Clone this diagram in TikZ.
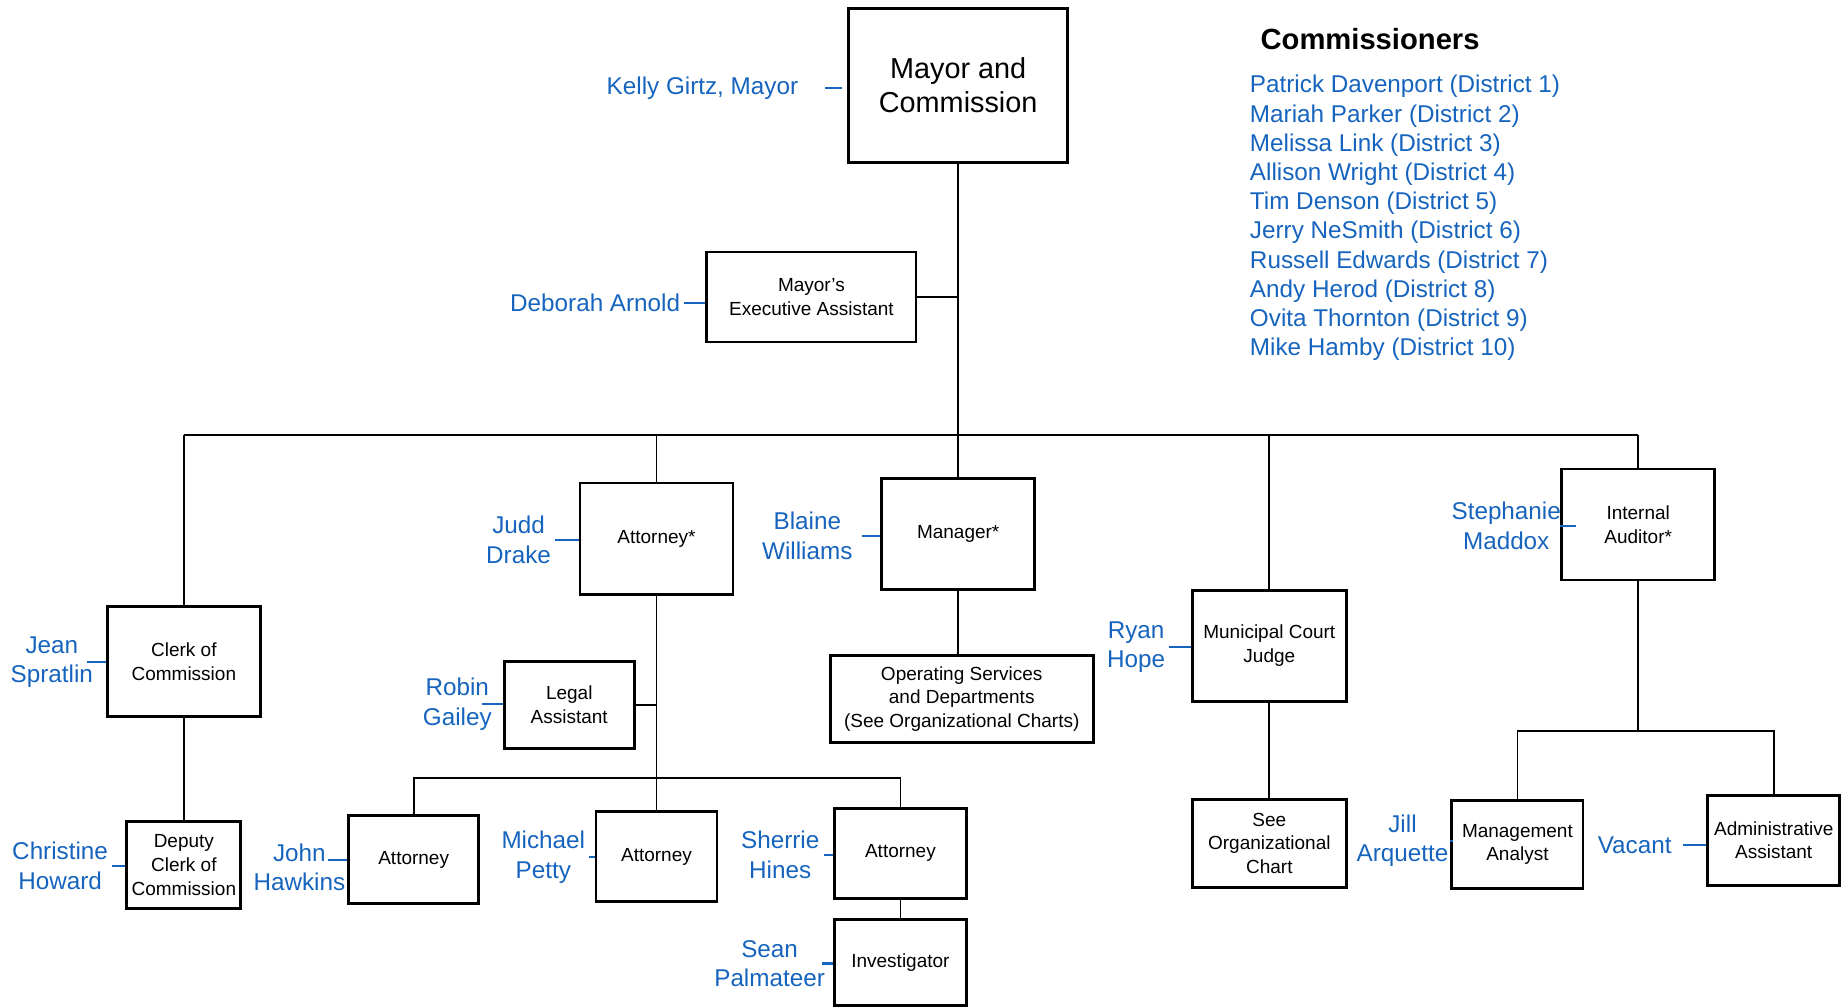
\documentclass[tikz,border=0pt]{standalone}
\usepackage{fontspec}
\setmainfont{Liberation Sans}
\usepackage{xcolor}
\definecolor{nameblue}{RGB}{22,100,190}

\begin{document}
\begin{tikzpicture}[x=0.011786cm,y=-0.011786cm,
  post/.style={draw,line width=0.8pt,align=center,inner sep=0pt,font=\fontsize{5.4}{6.7}\selectfont},
  person/.style={text=nameblue,align=center,inner sep=0pt,font=\fontsize{6.9}{8.4}\selectfont},
  tick/.style={draw=nameblue,line width=0.6pt,shorten <=1pt},
  link/.style={draw,line width=0.5pt}]
        \useasboundingbox (0,0) rectangle (1568,853.6);
        % top of the chart
        \node[post,minimum width=2.19cm,minimum height=1.54cm,font=\fontsize{8.2}{9.7}\selectfont] (mayor) at (813,72.5) {Mayor and\\Commission};
        \node[post,minimum width=2.09cm,minimum height=0.90cm] (exec) at (688.5,252) {Mayor's\\Executive Assistant};
        \node[person] (kelly) at (596,75) {Kelly Girtz, Mayor};
        \node[person] (deborah) at (505,257) {Deborah Arnold};
        \node[anchor=west,inner sep=0pt,font=\bfseries\fontsize{8.3}{10}\selectfont] (head) at (1069,33) {Commissioners};
        \node[person,anchor=west,align=left,font=\fontsize{6.9}{8.3}\selectfont] (board) at (1060,185) {Patrick Davenport (District 1)\\Mariah Parker (District 2)\\Melissa Link (District 3)\\Allison Wright (District 4)\\Tim Denson (District 5)\\Jerry NeSmith (District 6)\\Russell Edwards (District 7)\\Andy Herod (District 8)\\Ovita Thornton (District 9)\\Mike Hamby (District 10)};
        % second row
        \node[post,minimum width=1.53cm,minimum height=1.10cm] (clerk) at (156,561.5) {Clerk of\\Commission};
        \node[post,minimum width=1.53cm,minimum height=1.11cm] (attyTop) at (557,457) {Attorney*};
        \node[post,minimum width=1.53cm,minimum height=1.11cm] (manager) at (813,453) {Manager*};
        \node[post,minimum width=1.54cm,minimum height=1.11cm] (court) at (1077,548) {Municipal Court\\Judge};
        \node[post,minimum width=1.53cm,minimum height=1.11cm] (auditor) at (1390,445) {Internal\\Auditor*};
        \node[person] (jean) at (44,562) {Jean\\Spratlin};
        \node[person] (judd) at (440,458) {Judd\\Drake};
        \node[person] (blaine) at (685,454.5) {Blaine\\Williams};
        \node[person] (ryan) at (964,549) {Ryan\\Hope};
        \node[person] (stephanie) at (1278,446) {Stephanie\\Maddox};
        % lower rows
        \node[post,minimum width=1.14cm,minimum height=0.87cm] (deputy) at (156,734) {Deputy\\Clerk of\\Commission};
        \node[post,minimum width=1.30cm,minimum height=0.87cm] (legal) at (483,598) {Legal\\Assistant};
        \node[post,minimum width=1.30cm,minimum height=0.88cm] (attyA) at (351,729.5) {Attorney};
        \node[post,minimum width=1.21cm,minimum height=0.90cm] (attyB) at (557,727) {Attorney};
        \node[post,minimum width=1.32cm,minimum height=0.90cm] (attyC) at (764,724) {Attorney};
        \node[post,minimum width=1.32cm,minimum height=0.86cm] (invest) at (764,816.5) {Investigator};
        \node[post,minimum width=2.63cm,minimum height=0.87cm] (ops) at (816,593) {Operating Services\\and Departments\\(See Organizational Charts)};
        \node[post,minimum width=1.54cm,minimum height=0.88cm] (seeorg) at (1077,715.5) {See\\Organizational\\Chart};
        \node[post,minimum width=1.31cm,minimum height=0.88cm] (analyst) at (1287.5,716.5) {Management\\Analyst};
        \node[post,minimum width=1.32cm,minimum height=0.90cm] (admin) at (1505,713) {Administrative\\Assistant};
        \node[person] (christine) at (51,734.5) {Christine\\Howard};
        \node[person] (robin) at (388,597.5) {Robin\\Gailey};
        \node[person] (john) at (254,736) {John\\Hawkins};
        \node[person] (michael) at (461,727.5) {Michael\\Petty};
        \node[person] (sherrie) at (662,725.5) {Sherrie\\Hines};
        \node[person] (sean) at (653,817.5) {Sean\\Palmateer};
        \node[person] (jill) at (1190,713.5) {Jill\\Arquette};
        \node[person] (vacant) at (1387,717) {Vacant};
        % connectors
        \coordinate (bus) at (0,369);
        \coordinate (legalbus) at (0,660);
        \coordinate (auditbus) at (0,620);
        \draw[link] (mayor.south) -- (manager.north);
        \draw[link] (exec.east) -- (exec.east -| mayor.south);
        \draw[link] (clerk.north |- bus) -- (auditor.north |- bus);
        \draw[link] (clerk.north) -- (clerk.north |- bus);
        \draw[link] (attyTop.north) -- (attyTop.north |- bus);
        \draw[link] (court.north) -- (court.north |- bus);
        \draw[link] (auditor.north) -- (auditor.north |- bus);
        \draw[link] (clerk.south) -- (deputy.north);
        \draw[link] (attyTop.south) -- (attyB.north);
        \draw[link] (legal.east) -- (legal.east -| attyTop.south);
        \draw[link] (attyA.north) |- (attyC.north |- legalbus) -- (attyC.north);
        \draw[link] (attyC.south) -- (invest.north);
        \draw[link] (manager.south) -- (manager.south |- ops.north);
        \draw[link] (court.south) -- (seeorg.north);
        \draw[link] (auditor.south) -- (auditor.south |- auditbus);
        \draw[link] (analyst.north) |- (admin.north |- auditbus) -- (admin.north);
        % name ticks
        \draw[tick,shorten <=7.5pt,shorten >=1.5pt] (kelly.east) -- (kelly.east -| mayor.west);
        \draw[tick] (deborah.east) -- (deborah.east -| exec.west);
        \draw[tick,shorten <=-2pt] (jean.east) -- (jean.east -| clerk.west);
        \draw[tick] (christine.east) -- (christine.east -| deputy.west);
        \draw[tick,shorten <=-5pt] (attyA.west -| john.east) -- (attyA.west);
        \draw[tick] (judd.east) -- (judd.east -| attyTop.west);
        \draw[tick,shorten <=-3pt] (robin.east) -- (robin.east -| legal.west);
        \draw[tick] (michael.east) -- (michael.east -| attyB.west);
        \draw[tick] (sherrie.east) -- (sherrie.east -| attyC.west);
        \draw[tick,shorten <=-1pt] (sean.east) -- (sean.east -| invest.west);
        \draw[tick,shorten <=2.5pt] (blaine.east) -- (blaine.east -| manager.west);
        \draw[tick] (ryan.east) -- (ryan.east -| court.west);
        \draw[tick,shorten <=-4pt] (stephanie.east) -- (stephanie.east -| auditor.west);
        \draw[tick] (jill.east) -- (jill.east -| analyst.west);
        \draw[tick,shorten <=3pt] (vacant.east) -- (vacant.east -| admin.west);
    \end{tikzpicture}
\end{document}
